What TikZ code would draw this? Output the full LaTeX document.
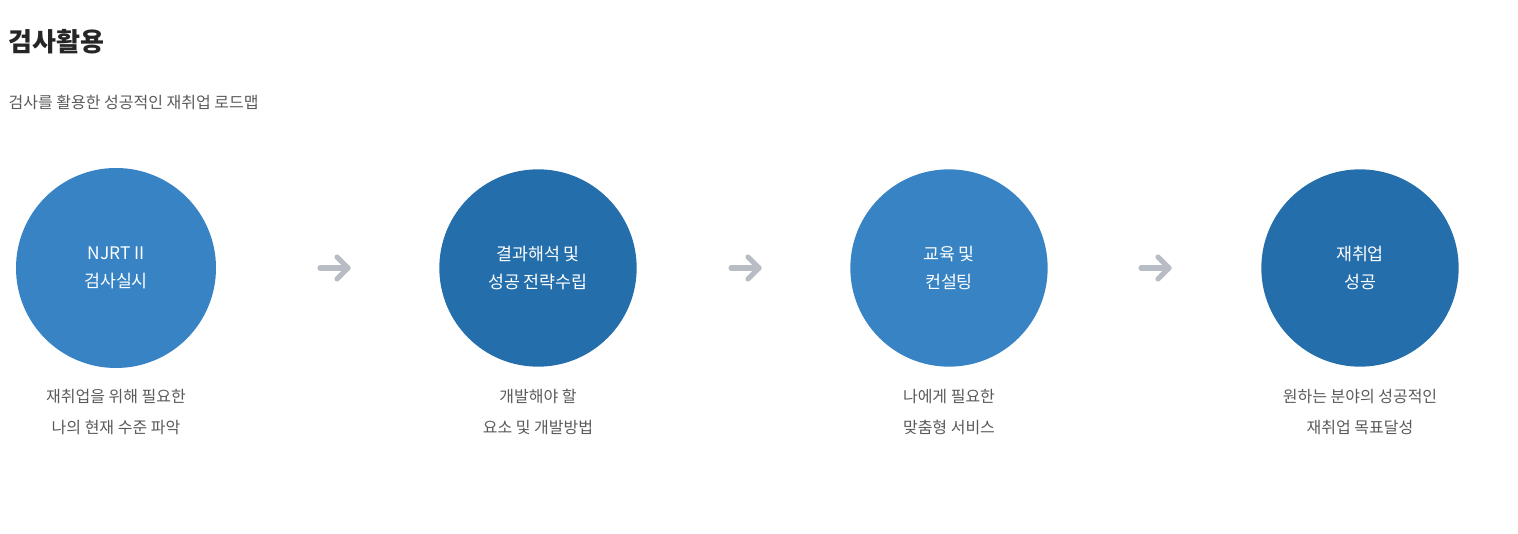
\documentclass[tikz,border=0pt]{standalone}
\usepackage{fontspec}
\usetikzlibrary{calc}
\setmainfont{Noto Sans CJK KR}
\begin{document}
\begin{tikzpicture}[x=0.75pt,y=-0.75pt,
  lightc/.style={circle,fill=c1,minimum size=150pt,inner sep=0pt,text=white,font=\fontsize{13}{21}\selectfont,align=center},
  darkc/.style={lightc,fill=c2},
  desc/.style={text=descgray,font=\fontsize{12}{23}\selectfont,align=center},
  arr/.style={draw=arrgray,line width=3.8pt,line cap=round,line join=round}]
\definecolor{c1}{HTML}{3783C4}
\definecolor{c2}{HTML}{236EAB}
\definecolor{descgray}{HTML}{5A5A5A}
\definecolor{arrgray}{HTML}{B8BCC4}
\useasboundingbox (0,0) rectangle (1518,534);
\node[anchor=west,font=\bfseries\fontsize{19.5}{24}\selectfont,text=black!85] (title) at (4,42) {검사활용};
\node[anchor=west,font=\fontsize{12}{16}\selectfont,text=descgray] (sub) at (4,102) {검사를 활용한 성공적인 재취업 로드맵};
\node[lightc,minimum size=150pt] (a) at (116,268) {NJRT II\\검사실시};
\node[darkc,minimum size=148pt] (b) at (538,268) {결과해석 및\\성공 전략수립};
\node[lightc,minimum size=148pt] (c) at (949,268) {교육 및\\컨설팅};
\node[darkc,minimum size=148pt] (d) at (1360,268) {재취업\\성공};
\node[desc] (da) at (116,412) {재취업을 위해 필요한\\나의 현재 수준 파악};
\node[desc] (db) at (538,412) {개발해야 할\\요소 및 개발방법};
\node[desc] (dc) at (949,412) {나에게 필요한\\맞춤형 서비스};
\node[desc] (dd) at (1360,412) {원하는 분야의 성공적인\\재취업 목표달성};
\foreach \x/\n in {320/ab,731/bc,1141/cd}{
  \coordinate (s\n) at (\x,268);
  \coordinate (e\n) at (\x+28,268);
  \draw[arr] (s\n) -- (e\n);
  \draw[arr] ($(e\n)+(-11,-11)$) -- (e\n) -- ($(e\n)+(-11,11)$);
}
\end{tikzpicture}
\end{document}
